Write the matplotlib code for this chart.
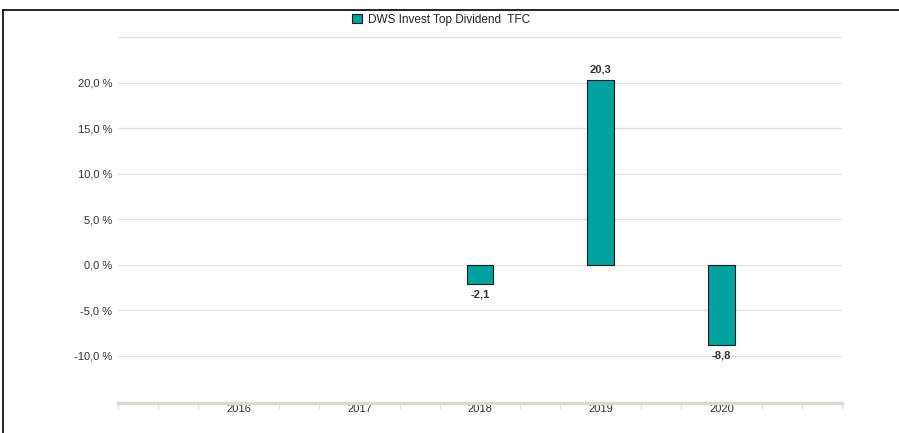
import matplotlib.pyplot as plt
from matplotlib.lines import Line2D
from matplotlib.patches import Rectangle
import numpy as np

plt.rcParams['font.family'] = ['Liberation Sans', 'DejaVu Sans']

years = ['2016', '2017', '2018', '2019', '2020']
values = [np.nan, np.nan, -2.1, 20.3, -8.8]
series_name = 'DWS Invest Top Dividend  TFC'
yticks = [-10, -5, 0, 5, 10, 15, 20]

bar_color = '#00A19F'
grid_color = '#E3E1DB'
text_color = '#333333'

W, H = 899, 433
fig = plt.figure(figsize=(W / 100, H / 100), dpi=100)
fig.patch.set_facecolor('white')

# plot area in pixel coords -> figure fractions
left, right, top, bottom = 118, 842, 37, 403
ax = fig.add_axes([left / W, 1 - bottom / H, (right - left) / W, (bottom - top) / H])
ax.set_facecolor('white')

x = np.arange(len(years))
for xi, v in zip(x, values):
    if np.isnan(v):
        continue
    ax.bar(xi, v, width=0.22, color=bar_color, edgecolor='#1a1a1a', linewidth=0.8, zorder=3)
    if v >= 0:
        ax.text(xi, v + 0.6, f'{v:.1f}'.replace('.', ','), ha='center', va='bottom',
                fontsize=8, fontweight='bold', color=text_color)
    else:
        ax.text(xi, v - 0.6, f'{v:.1f}'.replace('.', ','), ha='center', va='top',
                fontsize=8, fontweight='bold', color=text_color)

ax.set_xlim(-1, 5)
ax.set_ylim(-15.2, 25)

# horizontal gridlines (including the top one at 25)
for g in yticks + [25]:
    ax.axhline(g, color=grid_color, linewidth=1.0, zorder=1)

ax.set_yticks(yticks)
ax.set_yticklabels([f'{t:.1f} %'.replace('.', ',') for t in yticks])
ax.tick_params(axis='y', length=0, pad=4, labelsize=8, labelcolor=text_color)

# x axis: minor ticks every 1/3 unit, labels at categories
ax.set_xticks(x)
ax.set_xticklabels(years)
ax.set_xticks(np.arange(-1, 5.01, 1 / 3), minor=True)
ax.tick_params(axis='x', which='major', length=0, pad=1, labelsize=8, labelcolor=text_color)
ax.tick_params(axis='x', which='minor', length=4, width=1, color=grid_color, direction='out')
ax.tick_params(axis='x', which='major', bottom=False)

for s in ['top', 'right', 'left']:
    ax.spines[s].set_visible(False)
ax.spines['bottom'].set_color('#DDD9D0')
ax.spines['bottom'].set_linewidth(2.5)

# legend, sits a bit left of the plot centre in the original
ax.legend([Rectangle((0, 0), 1, 1, facecolor=bar_color, edgecolor='#1a1a1a', linewidth=0.8)],
          [series_name], loc='center', bbox_to_anchor=(441 / W, 1 - 20 / H),
          bbox_transform=fig.transFigure,
          frameon=False, fontsize=8.5, handlelength=0.8, handleheight=0.8, handletextpad=0.5,
          labelcolor='#222222')

# outer frame lines (top and left)
fig.add_artist(Line2D([3 / W, 1], [1 - 10 / H, 1 - 10 / H], color='black', linewidth=1.2,
                      transform=fig.transFigure))
fig.add_artist(Line2D([3 / W, 3 / W], [0, 1 - 10 / H], color='black', linewidth=1.2,
                      transform=fig.transFigure))

fig.savefig('out.png', dpi=100)
